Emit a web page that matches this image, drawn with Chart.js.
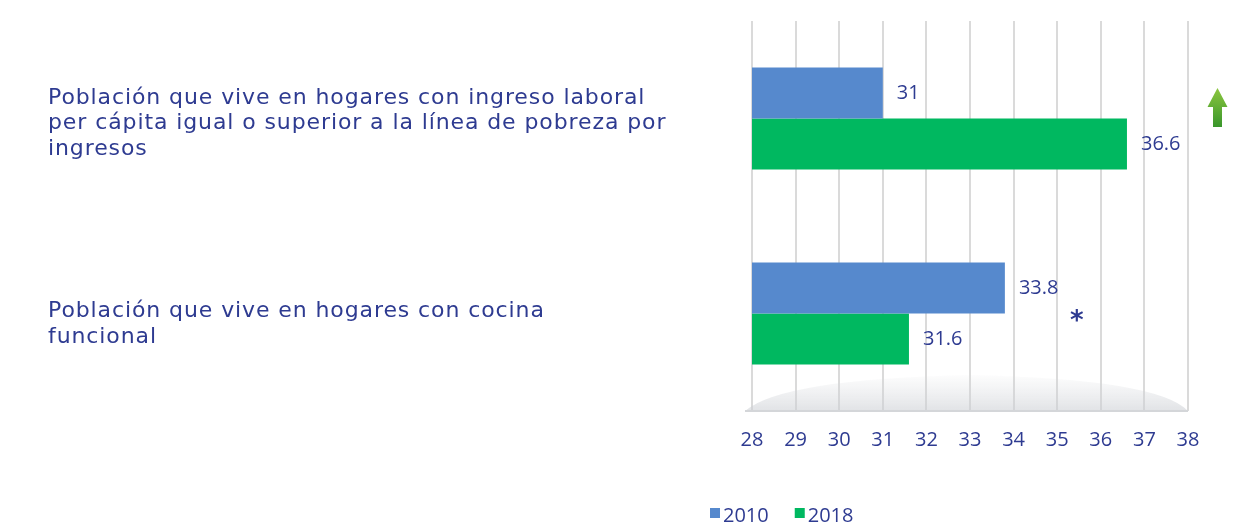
<!DOCTYPE html>
<html>
<head>
<meta charset="utf-8">
<script src="https://cdn.jsdelivr.net/npm/chart.js@4.4.1/dist/chart.umd.min.js"></script>
<style>
  html, body { margin: 0; padding: 0; background: #fff; }
  #wrap { width: 1240px; height: 529px; position: relative; }
</style>
</head>
<body>
<div id="wrap"><canvas id="barChart"></canvas></div>
<script>
// data
var categories = [
  ['Población que vive en hogares con ingreso laboral', 'per cápita igual o superior a la línea de pobreza por', 'ingresos'],
  ['Población que vive en hogares con cocina', 'funcional']
];
var seriesNames = ['2010', '2018'];
var values2010 = [31, 33.8];
var values2018 = [36.6, 31.6];
var xTicks = [28, 29, 30, 31, 32, 33, 34, 35, 36, 37, 38];

var textColor = '#2e3b91';
var numFont = 'Open Sans';
var catFont = 'DejaVu Sans';
var labelShift = [5, 11]; // vertical nudge of each category label block

// category labels, left aligned at the page margin
var categoryLabels = {
  id: 'categoryLabels',
  afterDraw: function (chart) {
    var ctx = chart.ctx, ys = chart.scales.y;
    var lh = 25.5;
    ctx.save();
    ctx.font = '22px "' + catFont + '"';
    ctx.letterSpacing = '0.9px';
    ctx.fillStyle = textColor;
    ctx.textAlign = 'left';
    ctx.textBaseline = 'middle';
    chart.data.labels.forEach(function (lines, i) {
      var y0 = ys.getPixelForValue(i) + labelShift[i] - (lines.length - 1) * lh / 2;
      lines.forEach(function (line, k) {
        ctx.fillText(line, 48, y0 + k * lh);
      });
    });
    ctx.restore();
  }
};

// value labels at the end of each bar
var valueLabels = {
  id: 'valueLabels',
  afterDatasetsDraw: function (chart) {
    var ctx = chart.ctx;
    ctx.save();
    ctx.font = '20px "' + numFont + '"';
    ctx.fillStyle = textColor;
    ctx.textBaseline = 'middle';
    ctx.textAlign = 'left';
    chart.data.datasets.forEach(function (ds, i) {
      chart.getDatasetMeta(i).data.forEach(function (bar, j) {
        ctx.fillText(String(ds.data[j]), bar.x + 14, bar.y);
      });
    });
    ctx.restore();
  }
};

// grey floor shading under the plot and the markers (arrow, asterisk, legend)
var decorations = {
  id: 'decorations',
  beforeDatasetsDraw: function (chart) {
    var ctx = chart.ctx, a = chart.chartArea;
    ctx.save();
    var g = ctx.createLinearGradient(0, a.bottom - 40, 0, a.bottom);
    g.addColorStop(0, 'rgba(215,217,221,0)');
    g.addColorStop(1, 'rgba(205,208,213,0.6)');
    ctx.fillStyle = g;
    ctx.beginPath();
    ctx.moveTo(a.left - 7, a.bottom);
    ctx.quadraticCurveTo(a.left + 30, a.bottom - 32, (a.left + a.right) / 2, a.bottom - 36);
    ctx.quadraticCurveTo(a.right - 30, a.bottom - 32, a.right, a.bottom);
    ctx.closePath();
    ctx.fill();
    ctx.strokeStyle = '#d4d6d9';
    ctx.lineWidth = 2;
    ctx.beginPath();
    ctx.moveTo(a.left - 7, a.bottom);
    ctx.lineTo(a.right, a.bottom);
    ctx.stroke();
    ctx.restore();
  },
  afterDraw: function (chart) {
    var ctx = chart.ctx, a = chart.chartArea;
    var xs = chart.scales.x, ys = chart.scales.y;
    ctx.save();
    // green up arrow beside the first category
    var cx = a.right + 29.5, top = ys.getPixelForValue(0) - 30.5;
    var ag = ctx.createLinearGradient(0, top, 0, top + 39);
    ag.addColorStop(0, '#8cc63f');
    ag.addColorStop(1, '#39962b');
    ctx.fillStyle = ag;
    ctx.beginPath();
    ctx.moveTo(cx, top);
    ctx.lineTo(cx + 10, top + 19);
    ctx.lineTo(cx + 4.5, top + 19);
    ctx.lineTo(cx + 4.5, top + 39);
    ctx.lineTo(cx - 4.5, top + 39);
    ctx.lineTo(cx - 4.5, top + 19);
    ctx.lineTo(cx - 10, top + 19);
    ctx.closePath();
    ctx.fill();
    // asterisk beside the second category
    ctx.fillStyle = textColor;
    ctx.font = 'bold 26px "DejaVu Sans"';
    ctx.textAlign = 'center';
    ctx.textBaseline = 'middle';
    ctx.fillText('*', xs.getPixelForValue(35.45), ys.getPixelForValue(1) + 9);

    // legend
    ctx.font = '20px "' + numFont + '"';
    ctx.textAlign = 'left';
    var lx = 710, ly = 516;
    chart.data.datasets.forEach(function (ds) {
      ctx.fillStyle = ds.backgroundColor;
      ctx.fillRect(lx, ly - 8, 10, 10);
      ctx.fillStyle = textColor;
      ctx.fillText(ds.label, lx + 13, ly);
      lx += 13 + ctx.measureText(ds.label).width + 26;
    });
    ctx.restore();
  }
};

var barCtx = document.getElementById('barChart').getContext('2d');
var barChart = new Chart(barCtx, {
  type: 'bar',
  data: {
    labels: categories,
    datasets: [
      {
        label: seriesNames[0],
        data: values2010,
        backgroundColor: '#5689cd',
        barPercentage: 1,
        categoryPercentage: 0.523
      },
      {
        label: seriesNames[1],
        data: values2018,
        backgroundColor: '#00b860',
        barPercentage: 1,
        categoryPercentage: 0.523
      }
    ]
  },
  options: {
    indexAxis: 'y',
    responsive: true,
    maintainAspectRatio: false,
    animation: false,
    layout: {
      padding: { left: 48, right: 52, top: 21, bottom: 0 }
    },
    plugins: {
      legend: { display: false },
      tooltip: { enabled: false }
    },
    scales: {
      x: {
        min: xTicks[0],
        max: xTicks[xTicks.length - 1],
        ticks: {
          stepSize: 1,
          padding: 17,
          color: textColor,
          font: { family: numFont, size: 20 }
        },
        grid: { color: '#dadada', lineWidth: 2, drawTicks: false },
        border: { display: false },
        afterFit: function (scale) {
          scale.height = 118;
        }
      },
      y: {
        ticks: { display: false },
        grid: { display: false },
        border: { display: false },
        afterFit: function (scale) {
          scale.width = 704;
        }
      }
    }
  },
  plugins: [valueLabels, decorations, categoryLabels]
});
</script>
</body>
</html>
